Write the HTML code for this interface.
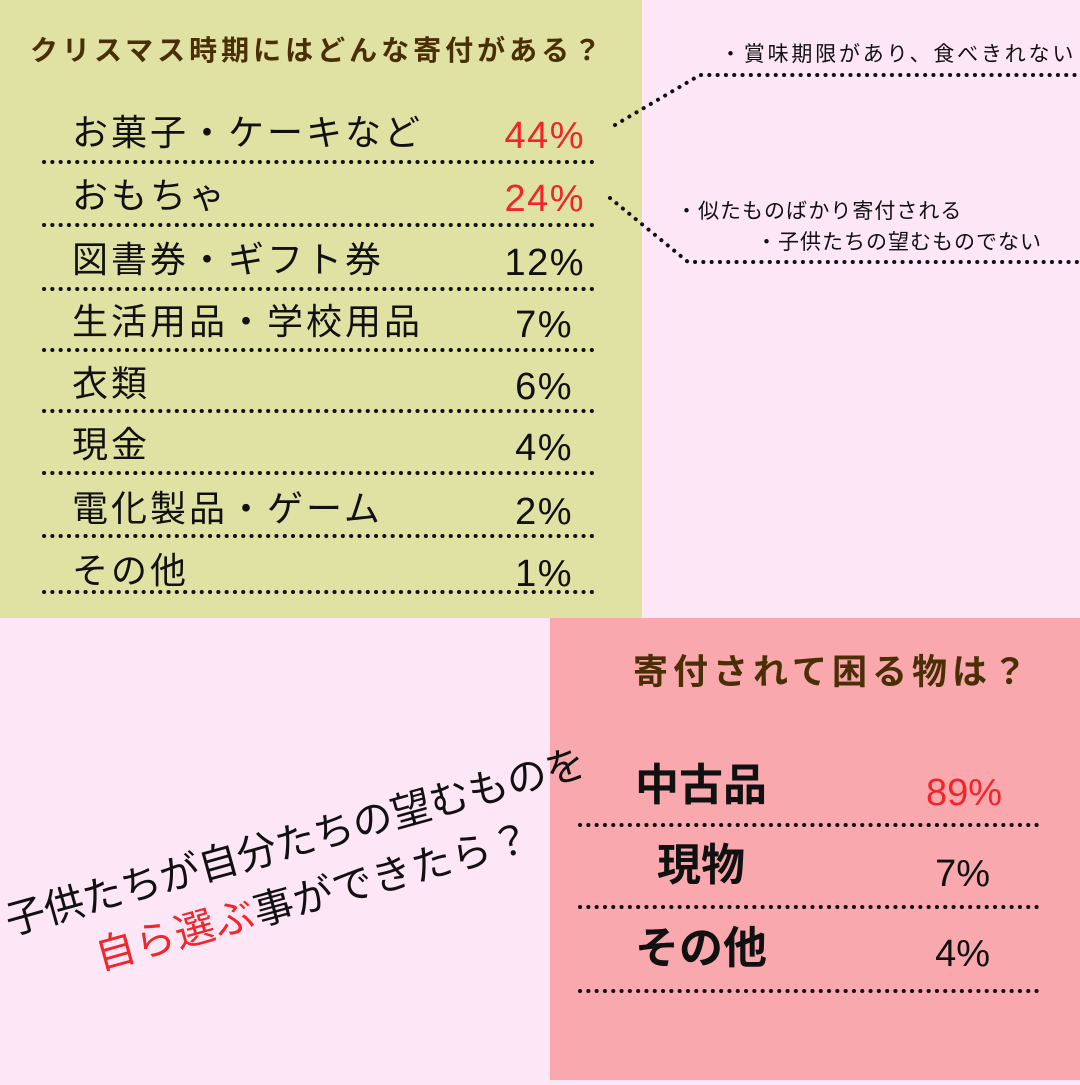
<!DOCTYPE html>
<html><head><meta charset="utf-8"><style>
body{margin:0;width:1080px;height:1080px;overflow:hidden;background:#fde6f6}
svg text{font-family:"Liberation Sans","Noto Sans CJK JP",sans-serif}
</style></head><body>
<svg width="1080" height="1080" xmlns="http://www.w3.org/2000/svg">
<rect width="1080" height="1080" fill="#fde6f6"/>
<rect x="0" y="0" width="642" height="618" fill="#e0e2a3"/>
<rect x="550" y="618" width="530" height="462" fill="#f9a8ae"/>
<g stroke="#111" stroke-width="4" stroke-linecap="round" stroke-dasharray="0.1 8.2" fill="none">
<line x1="44" y1="162" x2="598" y2="162"/>
<line x1="44" y1="225" x2="598" y2="225"/>
<line x1="44" y1="289" x2="598" y2="289"/>
<line x1="44" y1="350" x2="598" y2="350"/>
<line x1="44" y1="411" x2="598" y2="411"/>
<line x1="44" y1="473" x2="598" y2="473"/>
<line x1="44" y1="536" x2="598" y2="536"/>
<line x1="44" y1="592" x2="598" y2="592"/>
<line x1="580" y1="825" x2="1044" y2="825"/>
<line x1="580" y1="907" x2="1044" y2="907"/>
<line x1="580" y1="991" x2="1044" y2="991"/>
<polyline points="615,125 700,75 1080,75"/>
<polyline points="610,198 688,262 1080,262"/>
</g>
<text x="30" y="60" font-size="28" font-weight="bold" fill="#4a2e05" letter-spacing="4">クリスマス時期にはどんな寄付がある？</text>
<g font-size="36" fill="#111" letter-spacing="3">
<text x="72" y="145">お菓子・ケーキなど</text>
<text x="72" y="208">おもちゃ</text>
<text x="72" y="272">図書券・ギフト券</text>
<text x="72" y="334">生活用品・学校用品</text>
<text x="72" y="396">衣類</text>
<text x="72" y="457">現金</text>
<text x="72" y="521">電化製品・ゲーム</text>
<text x="72" y="583">その他</text>
</g>
<g font-size="38" fill="#111" text-anchor="end" letter-spacing="1.5">
<text x="585" y="148" fill="#f0262a">44%</text>
<text x="585" y="211" fill="#f0262a">24%</text>
<text x="585" y="275">12%</text>
<text x="573" y="337">7%</text>
<text x="573" y="399">6%</text>
<text x="573" y="460">4%</text>
<text x="573" y="524">2%</text>
<text x="573" y="586">1%</text>
</g>
<g font-size="21" fill="#111" letter-spacing="2">
<text x="720" y="61" letter-spacing="2.8">・賞味期限があり、食べきれない</text>
<text x="676" y="218" letter-spacing="1">・似たものばかり寄付される</text>
<text x="756" y="249" letter-spacing="1">・子供たちの望むものでない</text>
</g>
<text x="633" y="684" font-size="35" font-weight="bold" fill="#4a2e05" letter-spacing="5">寄付されて困る物は？</text>
<g font-size="44" font-weight="bold" fill="#111">
<text x="635" y="800">中古品</text>
<text x="657" y="880">現物</text>
<text x="635" y="963">その他</text>
</g>
<g font-size="38" fill="#111" text-anchor="end">
<text x="1002" y="805" fill="#f0262a">89%</text>
<text x="990" y="886">7%</text>
<text x="990" y="966">4%</text>
</g>
<g transform="rotate(-15.5 10 935)" font-size="40" fill="#111">
<text x="10" y="935">子供たちが自分たちの望むものを</text>
</g>
<g transform="rotate(-15.5 100 970)" font-size="40" fill="#111" letter-spacing="1">
<text x="100" y="970"><tspan fill="#f0262a">自ら選ぶ</tspan>事ができたら？</text>
</g>
</svg>
</body></html>
